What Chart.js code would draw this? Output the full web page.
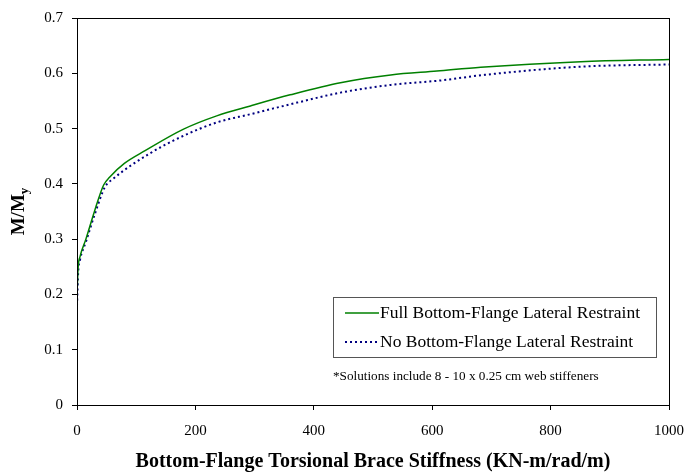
<!DOCTYPE html>
<html>
<head>
<meta charset="utf-8">
<script src="https://cdn.jsdelivr.net/npm/chart.js@4"></script>
<style>
  html, body { margin: 0; padding: 0; background: #fff; }
  #wrap { width: 689px; height: 475px; }
</style>
</head>
<body>
<div id="wrap"><canvas id="c" width="689" height="475"></canvas></div>
<script>
// Moment ratio M/My versus bottom-flange torsional brace stiffness
const fullStiffness = [0, 2, 5, 15, 30, 45, 55, 80, 115, 180, 236, 293, 360, 445, 530, 608, 682, 851, 1000];
const fullRatio     = [0.200, 0.250, 0.268, 0.300, 0.352, 0.398, 0.412, 0.437, 0.460, 0.499, 0.523, 0.541, 0.561, 0.583, 0.597, 0.604, 0.611, 0.621, 0.625];

const noStiffness = [0, 2, 5, 15, 30, 47, 61, 123, 180, 236, 293, 372, 445, 530, 614, 687, 851, 1000];
const noRatio     = [0.180, 0.240, 0.262, 0.295, 0.345, 0.394, 0.409, 0.455, 0.487, 0.511, 0.526, 0.547, 0.565, 0.579, 0.587, 0.597, 0.612, 0.616];

const seriesNames = ['Full Bottom-Flange Lateral Restraint', 'No Bottom-Flange Lateral Restraint'];
const xTicks = [0, 200, 400, 600, 800, 1000];
const yTicks = [0, 0.1, 0.2, 0.3, 0.4, 0.5, 0.6, 0.7];
const xTitle = 'Bottom-Flange Torsional Brace Stiffness (KN-m/rad/m)';
const noteText = '*Solutions include 8 - 10 x 0.25 cm web stiffeners';

const SERIF = '"Liberation Serif", "DejaVu Serif", serif';

const toPoints = (xs, ys) => xs.map((x, i) => ({ x: x, y: ys[i] }));

// Frame around the plot area, the boxed legend, the note and the axis titles
const decorations = {
  id: 'decorations',
  afterDraw(chart) {
    const ctx = chart.ctx;
    const a = chart.chartArea;
    ctx.save();
    ctx.strokeStyle = '#000';
    ctx.lineWidth = 1;
    ctx.strokeRect(a.left + 0.5, a.top + 0.5, a.right - a.left, a.bottom - a.top);

    // legend box
    const bx = 333.5, by = 297.5, bw = 323, bh = 60;
    ctx.strokeStyle = '#555';
    ctx.strokeRect(bx, by, bw, bh);
    ctx.font = '17.5px ' + SERIF;
    ctx.textBaseline = 'middle';
    ctx.fillStyle = '#000';
    chart.data.datasets.forEach((ds, i) => {
      const ly = 313 + i * 29;
      ctx.beginPath();
      ctx.strokeStyle = ds.borderColor;
      ctx.lineWidth = ds.borderWidth;
      ctx.setLineDash(ds.borderDash || []);
      ctx.moveTo(345, ly);
      ctx.lineTo(379, ly);
      ctx.stroke();
      ctx.setLineDash([]);
      ctx.fillText(ds.label, 380, ly);
    });

    // note under the legend
    ctx.font = '13.2px ' + SERIF;
    ctx.fillText(noteText, 333, 377);

    // x axis title
    ctx.font = 'bold 20px ' + SERIF;
    ctx.textAlign = 'center';
    ctx.textBaseline = 'middle';
    ctx.fillText(xTitle, (a.left + a.right) / 2, 462);

    // y axis title with subscript
    ctx.translate(19, (a.top + a.bottom) / 2);
    ctx.rotate(-Math.PI / 2);
    ctx.textAlign = 'left';
    ctx.textBaseline = 'middle';
    const main = 'M/M';
    ctx.font = 'bold 13px ' + SERIF;
    const subW = ctx.measureText('y').width;
    ctx.font = 'bold 19px ' + SERIF;
    const mainW = ctx.measureText(main).width;
    const start = -(mainW + subW) / 2;
    ctx.fillText(main, start, 0);
    ctx.font = 'bold 13px ' + SERIF;
    ctx.fillText('y', start + mainW, 6);
    ctx.restore();
  }
};

new Chart(document.getElementById('c'), {
  type: 'line',
  data: {
    datasets: [
      {
        label: seriesNames[0],
        data: toPoints(fullStiffness, fullRatio),
        borderColor: '#008000',
        borderWidth: 1.5,
        pointRadius: 0,
        fill: false,
        cubicInterpolationMode: 'monotone'
      },
      {
        label: seriesNames[1],
        data: toPoints(noStiffness, noRatio),
        borderColor: '#000080',
        borderWidth: 2,
        borderDash: [2, 3],
        pointRadius: 0,
        fill: false,
        cubicInterpolationMode: 'monotone'
      }
    ]
  },
  options: {
    responsive: false,
    animation: false,
    events: [],
    layout: { padding: { top: 14, right: 20, left: 0, bottom: 0 } },
    plugins: { legend: { display: false }, tooltip: { enabled: false } },
    scales: {
      x: {
        type: 'linear',
        min: xTicks[0],
        max: xTicks[xTicks.length - 1],
        afterBuildTicks: s => { s.ticks = xTicks.map(v => ({ value: v })); },
        afterFit: s => { s.height = 70; s.paddingLeft = 0; s.paddingRight = 0; },
        grid: { display: true, drawOnChartArea: false, tickLength: 5, color: '#000', tickColor: '#000' },
        border: { display: true, color: '#000', width: 1 },
        ticks: { color: '#000', padding: 12, maxRotation: 0, font: { family: SERIF, size: 15 },
                 callback: v => String(v) }
      },
      y: {
        type: 'linear',
        min: yTicks[0],
        max: yTicks[yTicks.length - 1],
        afterBuildTicks: s => { s.ticks = yTicks.map(v => ({ value: v })); },
        afterFit: s => { s.width = 77; },
        grid: { display: true, drawOnChartArea: false, tickLength: 5, color: '#000', tickColor: '#000' },
        border: { display: true, color: '#000', width: 1 },
        ticks: { color: '#000', padding: 9, font: { family: SERIF, size: 15 },
                 callback: v => (Math.round(v * 10) / 10).toString() }
      }
    }
  },
  plugins: [decorations]
});
</script>
</body>
</html>
